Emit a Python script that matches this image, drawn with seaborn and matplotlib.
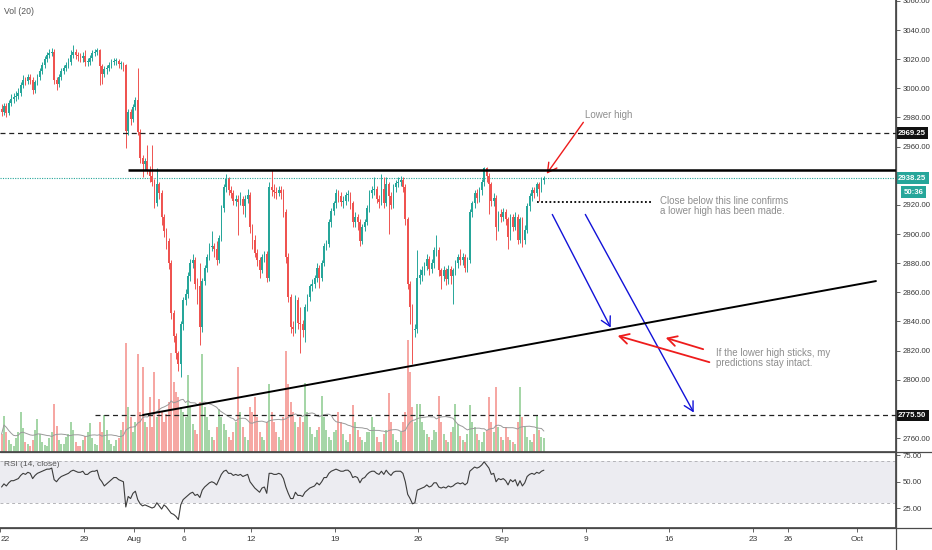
import numpy as np
import pandas as pd
import matplotlib.pyplot as plt
import seaborn as sns
from matplotlib.lines import Line2D

# ---------------- data ----------------

first_open = 2986

closes = [
    2984, 2988, 2983, 2990, 2993, 2994, 2995, 2997, 3002, 3006,
    3005, 3008, 3006, 2999, 3004, 3008, 3012, 3016, 3020, 3023,
    3024, 3025, 3006, 3003, 3008, 3012, 3014, 3016, 3018, 3023,
    3025, 3023, 3022, 3021, 3022, 3018, 3018, 3021, 3024, 3025,
    3026, 3015, 3010, 3013, 3014, 3016, 3018, 3019, 3019, 3017,
    3017, 3016, 2971, 2984, 2979, 2987, 2992, 2970, 2952, 2948,
    2950, 2944, 2940, 2936, 2921, 2934, 2928, 2912, 2902, 2895,
    2880, 2846, 2830, 2818, 2811, 2838, 2855, 2859, 2871, 2880,
    2882, 2866, 2864, 2836, 2868, 2877, 2884, 2891, 2892, 2890,
    2882, 2897, 2918, 2932, 2938, 2930, 2928, 2923, 2924, 2922,
    2924, 2919, 2924, 2927, 2905, 2896, 2887, 2882, 2875, 2884,
    2886, 2870, 2932, 2930, 2929, 2928, 2930, 2928, 2915, 2884,
    2857, 2836, 2835, 2855, 2839, 2838, 2834, 2850, 2857, 2864,
    2866, 2870, 2877, 2870, 2880, 2892, 2893, 2908, 2916, 2921,
    2928, 2926, 2922, 2923, 2927, 2927, 2921, 2908, 2912, 2908,
    2895, 2905, 2908, 2918, 2928, 2930, 2931, 2924, 2922, 2931,
    2921, 2934, 2926, 2920, 2932, 2935, 2936, 2937, 2932, 2910,
    2866, 2850, 2834, 2835, 2870, 2872, 2875, 2878, 2883, 2876,
    2880, 2889, 2889, 2875, 2871, 2875, 2869, 2876, 2871, 2875,
    2880, 2884, 2882, 2884, 2877, 2882, 2915, 2921, 2928, 2925,
    2930, 2936, 2945, 2940, 2934, 2923, 2925, 2905, 2914, 2912,
    2915, 2910, 2898, 2912, 2905, 2912, 2896, 2910, 2896, 2903,
    2919, 2926, 2930, 2928, 2934, 2931, 2937, 2938.25,
]

highs = [
    2989, 2990, 2990, 2992, 2996, 2997, 2998, 3000, 3004, 3009,
    3008, 3010, 3010, 3008, 3006, 3010, 3014, 3018, 3022, 3025,
    3027, 3028, 3027, 3008, 3010, 3014, 3016, 3018, 3021, 3026,
    3030, 3027, 3025, 3024, 3025, 3026, 3021, 3023, 3026, 3027,
    3028, 3027, 3017, 3015, 3016, 3018, 3020, 3021, 3021, 3020,
    3019, 3018, 3017, 2986, 2986, 2989, 2994, 3014, 2972, 2954,
    2952, 2961, 2947, 2961, 2938, 2945, 2936, 2930, 2914, 2904,
    2897, 2882, 2848, 2832, 2820, 2840, 2857, 2862, 2874, 2883,
    2886, 2884, 2870, 2880, 2870, 2879, 2886, 2894, 2902, 2894,
    2895, 2899, 2920, 2934, 2941, 2939, 2933, 2930, 2927, 2927,
    2929, 2926, 2927, 2931, 2929, 2907, 2899, 2890, 2884, 2886,
    2888, 2888, 2936, 2944, 2934, 2932, 2933, 2933, 2931, 2917,
    2887, 2859, 2840, 2858, 2857, 2850, 2841, 2852, 2859, 2866,
    2869, 2872, 2880, 2879, 2882, 2894, 2896, 2910, 2918, 2923,
    2931, 2930, 2929, 2926, 2929, 2930, 2929, 2923, 2915, 2914,
    2910, 2907, 2910, 2920, 2930, 2933, 2939, 2933, 2927, 2941,
    2939, 2939, 2936, 2929, 2934, 2937, 2939, 2940, 2939, 2934,
    2912, 2868, 2852, 2838, 2889, 2876, 2878, 2881, 2886, 2885,
    2883, 2891, 2899, 2891, 2877, 2878, 2877, 2879, 2878, 2877,
    2882, 2886, 2890, 2887, 2886, 2884, 2917, 2923, 2930, 2931,
    2932, 2938, 2946, 2946, 2942, 2936, 2928, 2927, 2916, 2917,
    2918, 2917, 2912, 2914, 2914, 2915, 2914, 2912, 2912, 2906,
    2921, 2928, 2932, 2932, 2936, 2936, 2939, 2940,
]

lows = [
    2981, 2982, 2980, 2982, 2988, 2990, 2991, 2993, 2995, 3000,
    3002, 3003, 3003, 2996, 2997, 3002, 3006, 3010, 3014, 3018,
    3021, 3022, 3003, 2999, 3001, 3006, 3010, 3012, 3014, 3016,
    3021, 3020, 3019, 3018, 3018, 3015, 3015, 3016, 3019, 3022,
    3023, 3002, 3003, 3008, 3010, 3012, 3014, 3016, 3016, 3014,
    3013, 3012, 2959, 2968, 2975, 2977, 2985, 2968, 2949, 2939,
    2944, 2941, 2936, 2933, 2918, 2919, 2924, 2906, 2898, 2890,
    2876, 2842, 2826, 2814, 2806, 2802, 2834, 2851, 2856, 2868,
    2877, 2862, 2852, 2824, 2833, 2865, 2874, 2882, 2888, 2884,
    2879, 2880, 2895, 2915, 2929, 2927, 2925, 2920, 2919, 2899,
    2920, 2914, 2912, 2921, 2901, 2890, 2884, 2878, 2870, 2873,
    2881, 2867, 2868, 2926, 2925, 2924, 2926, 2924, 2912, 2880,
    2853, 2832, 2830, 2832, 2835, 2818, 2829, 2826, 2847, 2854,
    2861, 2863, 2867, 2863, 2868, 2878, 2889, 2891, 2905, 2913,
    2918, 2922, 2919, 2918, 2920, 2923, 2917, 2905, 2905, 2903,
    2892, 2893, 2902, 2906, 2915, 2925, 2927, 2921, 2918, 2920,
    2918, 2919, 2900, 2917, 2918, 2929, 2932, 2933, 2929, 2906,
    2862, 2838, 2811, 2829, 2832, 2866, 2868, 2872, 2875, 2872,
    2873, 2877, 2885, 2871, 2862, 2868, 2865, 2866, 2866, 2852,
    2872, 2877, 2879, 2879, 2874, 2874, 2880, 2912, 2918, 2921,
    2922, 2927, 2933, 2936, 2914, 2919, 2919, 2896, 2902, 2908,
    2909, 2906, 2890, 2896, 2902, 2903, 2893, 2894, 2891, 2893,
    2901, 2916, 2923, 2925, 2926, 2923, 2929, 2934,
]

# volume in thousands, one row per session
volumes = [
    18, 36, 20, 12, 8, 6, 14,
    20, 40, 24, 10, 8, 6, 12,
    22, 33, 18, 10, 7, 6, 14,
    20, 48, 26, 12, 8, 8, 15,
    18, 30, 22, 10, 6, 6, 12,
    16, 20, 29, 14, 8, 7, 30,
    20, 37, 22, 12, 8, 6, 12,
    14, 22, 30, 109, 45, 35, 20,
    30, 98, 40, 85, 30, 25, 55,
    25, 80, 35, 53, 40, 30, 38,
    50, 99, 70, 60, 55, 45, 40,
    35, 77, 45, 28, 22, 18, 50,
    98, 45, 35, 22, 15, 12, 25,
    43, 35, 28, 22, 15, 12, 20,
    30, 85, 40, 25, 15, 12, 45,
    40, 55, 35, 20, 15, 12, 30,
    68, 40, 30, 20, 15, 12, 35,
    101, 68, 50, 40, 30, 25, 35,
    30, 69, 40, 25, 18, 15, 22,
    25, 56, 35, 22, 15, 12, 20,
    22, 40, 30, 18, 12, 10, 18,
    47, 30, 22, 15, 12, 10, 20,
    20, 35, 25, 15, 10, 10, 18,
    22, 59, 30, 18, 12, 10, 20,
    30, 40, 112, 80, 45, 30, 48,
    48, 30, 22, 18, 15, 12, 22,
    20, 56, 30, 18, 12, 10, 20,
    25, 48, 28, 16, 12, 10, 18,
    47, 30, 25, 18, 12, 10, 20,
    22, 55, 30, 20, 65, 25, 15,
    12, 25, 15, 12, 10, 8, 30,
    65, 35, 25, 15, 12, 10, 18,
    36, 22, 15, 14,
]

rsi_values = [
    45, 48, 46, 49, 51, 51, 52, 53, 56, 58,
    57, 59, 58, 53, 56, 58, 59, 60, 61, 62,
    62, 63, 52, 50, 53, 55, 56, 57, 58, 60,
    61, 60, 59, 59, 60, 57, 57, 59, 60, 60,
    61, 53, 50, 46, 48, 50, 52, 54, 54, 52,
    51, 50, 26, 36, 34, 39, 41, 33, 29, 27,
    28, 27, 26, 25, 26, 30, 27, 24, 28, 26,
    23, 20, 19, 17, 14, 28, 33, 35, 37, 39,
    40, 37, 38, 35, 42, 45, 47, 49, 50, 49,
    47, 52, 57, 60, 61, 58, 58, 56, 57, 56,
    57, 55, 56, 57, 50, 47, 44, 42, 40, 44,
    45, 39, 58, 58, 57, 57, 58, 57, 53, 45,
    39, 34, 34, 40, 37, 37, 36, 40, 42, 44,
    45, 46, 49, 47, 50, 54, 54, 58, 60, 61,
    62, 61, 60, 60, 61, 61, 59, 54, 55, 54,
    49, 53, 54, 57, 59, 60, 60, 58, 57, 60,
    57, 61, 58, 56, 59, 60, 60, 60, 58, 50,
    38, 34, 29, 30, 42, 43, 44, 45, 47, 45,
    46, 49, 49, 45, 44, 45, 44, 46, 45, 46,
    48, 49, 48, 49, 47, 49, 60, 62, 64, 63,
    64, 66, 69, 66, 63, 57, 58, 50, 53, 52,
    53, 51, 47, 52, 50, 52, 46, 51, 46, 49,
    55, 57, 58, 57, 59, 58, 60, 61,
]

date_ticks = [-0.5, 34.5, 55.5, 76.5, 104.5, 139.5, 174.5, 209.5,
              244.5, 279.5, 314.5, 329.2, 358.1]
date_labels = ["22", "29", "Aug", "6", "12", "19", "26", "Sep",
               "9", "16", "23", "26", "Oct"]

price_ticks = [2760, 2800, 2820, 2840, 2860, 2880, 2900, 2920,
               2960, 2980, 3000, 3020, 3040, 3060]
rsi_ticks = [25, 50, 75]

# drawn levels / trend lines (bar index, price)
resistance = 2944
upper_level = 2969.25
lower_level = 2775.5
last_price = 2938.25
confirm_level = 2922
trend_x = [59.2, 366.0]
trend_y = [2775.8, 2867.7]

lower_high_arrow = [(244.2, 2978.2), (227.5, 2939.8)]
blue_arrows = [[(230.0, 2915.1), (255.5, 2834.1)],
               [(243.8, 2915.1), (290.3, 2775.8)]]
red_arrows = [[(297.4, 2811.5), (256.8, 2830.7)],
              [(294.8, 2820.4), (276.9, 2829.3)]]

# ---------------- frame ----------------

df = pd.DataFrame({"close": closes, "high": highs, "low": lows,
                   "volume": volumes, "rsi": rsi_values})
df["bar"] = np.arange(len(df))
df["open"] = df["close"].shift(1).fillna(first_open)
df["up"] = df["close"] >= df["open"]
df["vol_ma"] = df["volume"].rolling(20, min_periods=1).mean()

UP, DOWN = "#26a69a", "#ef5350"
VOL_UP, VOL_DOWN = "#a5d6a7", "#f6a7a3"
TXT = "#8e8e8e"
AXC = "#4a4a4a"
TICK_FS = 5.6

sns.set_theme(style="white")
plt.rcParams["font.family"] = ["Liberation Sans", "DejaVu Sans"]

fig = plt.figure(figsize=(9.32, 5.5), dpi=100)
W, H = 932, 550
ax = fig.add_axes([0, 98 / H, 896 / W, 452 / H])
ax_rsi = fig.add_axes([0, 22 / H, 896 / W, 76 / H], sharex=ax)
ax_vol = ax.twinx()

x_lo, x_hi = -0.66, 374.4

# ---------------- volume ----------------

ax_vol.bar(df["bar"], df["volume"], width=0.85,
           color=np.where(df["up"], VOL_UP, VOL_DOWN), linewidth=0)
sns.lineplot(data=df, x="bar", y="vol_ma", ax=ax_vol,
             color="#9a9a9a", linewidth=0.7)
ax_vol.set_ylim(0, 452)
ax_vol.yaxis.set_visible(False)
ax_vol.set_ylabel("")
for s in ax_vol.spines.values():
    s.set_visible(False)

ax.set_zorder(ax_vol.get_zorder() + 1)
ax.patch.set_visible(False)

# ---------------- candles ----------------

colors = np.where(df["up"], UP, DOWN)
ax.vlines(df["bar"], df["low"], df["high"], colors=colors, linewidth=0.7, zorder=2)
body_lo = df[["open", "close"]].min(axis=1)
body_h = (df["close"] - df["open"]).abs().clip(lower=0.6)
ax.bar(df["bar"], body_h, bottom=body_lo, width=0.72, color=colors,
       linewidth=0, zorder=3)

# ---------------- drawings ----------------

ax.hlines(resistance, 52.9, x_hi, color="black", linewidth=1.8, zorder=4)
ax.hlines(upper_level, x_lo, x_hi, color="#222222", linewidth=0.9,
          linestyles=(0, (4, 3)), zorder=4)
ax.hlines(lower_level, 39.1, x_hi, color="#222222", linewidth=0.9,
          linestyles=(0, (4, 3)), zorder=4)
ax.axhline(last_price, color=UP, linewidth=0.8, linestyle=(0, (1, 1.2)), zorder=1)
ax.plot(trend_x, trend_y, color="black", linewidth=1.4, zorder=4)
ax.hlines(confirm_level, 224.1, 271.8, color="black", linewidth=1.3,
          linestyles=(0, (1, 1.3)), zorder=4)

arrow_style = "->,head_length=0.55,head_width=0.3"
ax.annotate("", xy=lower_high_arrow[1], xytext=lower_high_arrow[0],
            arrowprops=dict(arrowstyle=arrow_style, color="#ee1c1c", lw=1.0))
for tail, head in blue_arrows:
    ax.annotate("", xy=head, xytext=tail,
                arrowprops=dict(arrowstyle=arrow_style, color="#1212d8", lw=1.0))
for tail, head in red_arrows:
    ax.annotate("", xy=head, xytext=tail,
                arrowprops=dict(arrowstyle=arrow_style, color="#ee1c1c", lw=1.3))

ax.text(244.2, 2981.7, "Lower high", fontsize=7, color=TXT, va="center")
ax.text(275.6, 2919.1, "Close below this line confirms\na lower high has been made.",
        fontsize=7, color=TXT, va="center", linespacing=1.05)
ax.text(299.0, 2814.9, "If the lower high sticks, my\npredictions stay intact.",
        fontsize=7, color=TXT, va="center", linespacing=1.05)

fig.text(4 / W, 1 - 12 / H, "Vol (20)", fontsize=6.2, color="#555555", va="center")

# ---------------- price axis ----------------

ax.set_xlim(x_lo, x_hi)
ax.set_ylim(2750.4, 3060.6)
ax.yaxis.tick_right()
ax.set_yticks(price_ticks, [f"{v:.2f}" for v in price_ticks])
ax.tick_params(axis="y", right=True, left=False, labelright=True, labelleft=False,
               length=3, width=0.6, color=AXC, labelsize=TICK_FS,
               labelcolor="#3a3a3a", pad=1.5)
ax.tick_params(axis="x", bottom=False, labelbottom=False)
for side in ["top", "left"]:
    ax.spines[side].set_visible(False)
ax.spines["right"].set_color(AXC)
ax.spines["bottom"].set_color(AXC)


def price_tag(y, text, color, dx=1.5):
    ax.annotate(text, xy=(1, y), xycoords=("axes fraction", "data"),
                xytext=(dx, 0), textcoords="offset points", ha="left", va="center",
                fontsize=TICK_FS, color="white", fontweight="bold",
                bbox=dict(boxstyle="square,pad=0.3", fc=color, ec="none"),
                annotation_clip=False, zorder=10)


price_tag(upper_level, "2969.25", "#111111")
price_tag(last_price, "2938.25", UP)
price_tag(2928.8, "50:36", UP, dx=5.5)
price_tag(lower_level, "2775.50", "#111111")

# ---------------- RSI ----------------

ax_rsi.axhspan(30, 70, color="#ececf1", linewidth=0)
ax_rsi.hlines([30, 70], x_lo, x_hi, color="#b4b4b8", linewidth=0.7,
              linestyles=(0, (3, 3)))
sns.lineplot(data=df, x="bar", y="rsi", ax=ax_rsi, color="#3c3c3c", linewidth=0.8)
ax_rsi.set_ylim(6, 78.3)
ax_rsi.set_xlim(x_lo, x_hi)
ax_rsi.set_xlabel("")
ax_rsi.set_ylabel("")
ax_rsi.yaxis.tick_right()
ax_rsi.set_yticks(rsi_ticks, [f"{v:.2f}" for v in rsi_ticks])
ax_rsi.tick_params(axis="y", right=True, left=False, labelright=True, labelleft=False,
                   length=3, width=0.6, color=AXC, labelsize=TICK_FS,
                   labelcolor="#3a3a3a", pad=1.5)
ax_rsi.set_xticks(date_ticks, date_labels)
ax_rsi.tick_params(axis="x", bottom=True, length=3, width=0.6, color=AXC,
                   labelsize=6, labelcolor="#3a3a3a", pad=3)
# first date sits on the left edge: keep it inside the figure
ax_rsi.get_xticklabels()[0].set_horizontalalignment("left")
ax_rsi.text(4 / 896, 1 - 13 / 76, "RSI (14, close)", transform=ax_rsi.transAxes,
            fontsize=6, color="#555555", va="center")
for side in ["top", "left"]:
    ax_rsi.spines[side].set_visible(False)
ax_rsi.spines["right"].set_color(AXC)
ax_rsi.spines["bottom"].set_color(AXC)

# panel separators running across the price scale
for yy in [98 / H, 22 / H]:
    fig.add_artist(Line2D([0, 1], [yy, yy], color=AXC, linewidth=0.9))
fig.add_artist(Line2D([896 / W, 896 / W], [0, 1], color=AXC, linewidth=0.9))

fig.savefig("out.png", dpi=100)
